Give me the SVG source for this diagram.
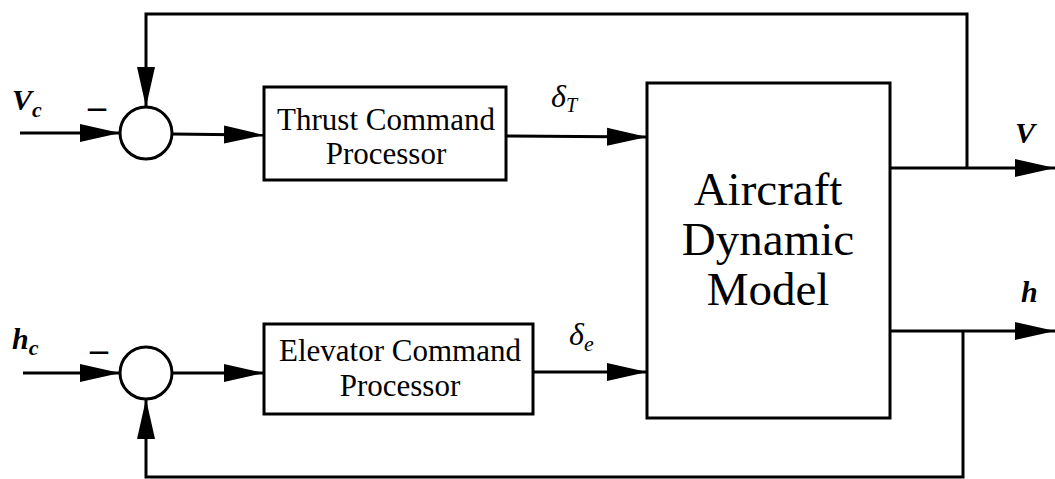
<svg xmlns="http://www.w3.org/2000/svg" width="1055" height="479" viewBox="0 0 1055 479">
<style>
.ln{fill:none;stroke:#000;stroke-width:3}
.bx{fill:#fff;stroke:#000;stroke-width:3}
.t{font-family:"Liberation Serif","Times New Roman",serif;fill:#000}
.lab{font-family:"Liberation Serif","Times New Roman",serif;font-style:italic;fill:#000}
</style>
<defs>
<marker id="ar" markerUnits="userSpaceOnUse" markerWidth="40" markerHeight="20" refX="40" refY="10" orient="auto">
<path d="M0,1 L40,10 L0,19 z" fill="#000"/>
</marker>
</defs>
<rect width="1055" height="479" fill="#fff"/>
<g id="connectors">
<line class="ln" x1="20" y1="133" x2="120" y2="133" marker-end="url(#ar)"/>
<line class="ln" x1="172" y1="134" x2="264" y2="135" marker-end="url(#ar)"/>
<line class="ln" x1="505" y1="136" x2="647" y2="137" marker-end="url(#ar)"/>
<polyline class="ln" points="967,168 967,14 146,14 146,107" marker-end="url(#ar)"/>
<line class="ln" x1="890" y1="168" x2="1055" y2="168" marker-end="url(#ar)"/>
<line class="ln" x1="23" y1="373" x2="120" y2="373" marker-end="url(#ar)"/>
<line class="ln" x1="172" y1="373" x2="264" y2="373" marker-end="url(#ar)"/>
<line class="ln" x1="533" y1="372" x2="647" y2="372" marker-end="url(#ar)"/>
<line class="ln" x1="890" y1="331" x2="1055" y2="331" marker-end="url(#ar)"/>
<polyline class="ln" points="963,331 963,477 146,477 146,399" marker-end="url(#ar)"/>
</g>
<g id="sum1">
<circle class="bx" cx="146" cy="133" r="26"/>
<text class="t" x="97" y="118" font-size="36" font-weight="bold" text-anchor="middle">–</text>
</g>
<g id="sum2">
<circle class="bx" cx="146" cy="373" r="26"/>
<text class="t" x="99" y="361" font-size="36" font-weight="bold" text-anchor="middle">–</text>
</g>
<g id="thrust">
<rect class="bx" x="264" y="87" width="242" height="93"/>
<text class="t" x="386" y="130" font-size="31" text-anchor="middle">Thrust Command</text>
<text class="t" x="386" y="164" font-size="31" text-anchor="middle">Processor</text>
</g>
<g id="elevator">
<rect class="bx" x="264" y="324" width="269" height="90"/>
<text class="t" x="400" y="361" font-size="31" text-anchor="middle">Elevator Command</text>
<text class="t" x="400" y="396" font-size="31" text-anchor="middle">Processor</text>
</g>
<g id="aircraft">
<rect class="bx" x="647" y="83" width="243" height="335"/>
<text class="t" x="768" y="205" font-size="47" text-anchor="middle">Aircraft</text>
<text class="t" x="768" y="255" font-size="47" text-anchor="middle">Dynamic</text>
<text class="t" x="768" y="305" font-size="47" text-anchor="middle">Model</text>
</g>
<g id="labels">
<text class="lab" x="12" y="110" font-size="30" font-weight="bold">V<tspan font-size="22" dy="7">c</tspan></text>
<text class="lab" x="12" y="349" font-size="30" font-weight="bold">h<tspan font-size="22" dy="6">c</tspan></text>
<text class="lab" x="551" y="107" font-size="32">δ<tspan font-size="20" dy="5">T</tspan></text>
<text class="lab" x="569" y="345" font-size="32">δ<tspan font-size="22" dy="6">e</tspan></text>
<text class="lab" x="1015" y="143" font-size="30" font-weight="bold">V</text>
<text class="lab" x="1021" y="302" font-size="30" font-weight="bold">h</text>
</g>
</svg>
